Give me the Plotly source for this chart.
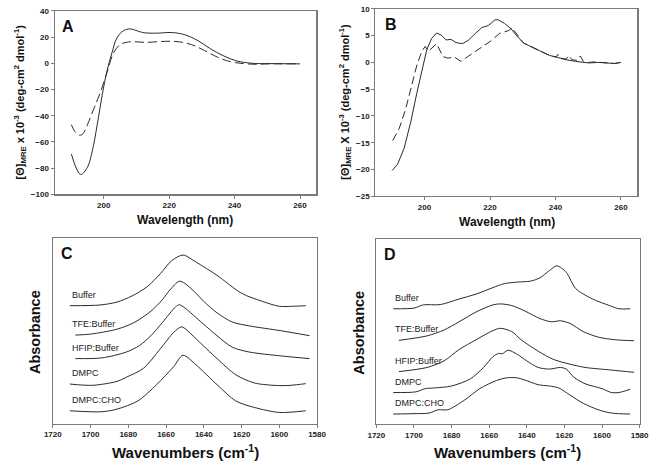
import plotly.graph_objects as go
from plotly.subplots import make_subplots

# ---- Panel A : CD spectra (wavelength nm, [theta] x 1e-3) ----
a_solid_wl = [190.1, 192.9, 195.0, 196.5, 198.0, 199.5, 201.0, 202.5, 204.0, 206.0, 208.0, 209.4,
              211.9, 215.9, 220.8, 224.8, 228.8, 232.7, 236.7, 240.7, 245.6, 250.6, 260.0]
a_solid_val = [-69.3, -84.8, -79.3, -66.8, -46.8, -24.4, -5.7, 8.0, 19.3, 24.8, 26.3, 25.5,
               23.5, 23.0, 23.5, 21.8, 17.3, 11.0, 5.6, 1.8, 0.0, -0.2, -0.4]
a_dash_wl = [190.1, 191.1, 192.6, 193.6, 195.0, 197.0, 199.0, 201.0, 203.0, 205.0, 206.9, 208.9,
             212.9, 218.8, 222.8, 226.8, 230.8, 234.7, 238.7, 242.7, 246.6, 250.6, 260.0]
a_dash_val = [-46.8, -51.8, -54.8, -53.8, -46.8, -34.4, -21.9, -6.9, 8.0, 14.3, 16.0, 16.5,
              16.0, 16.8, 16.5, 14.3, 9.8, 4.8, 1.3, -0.2, -0.7, -0.4, -0.4]

# ---- Panel B : CD spectra ----
b_solid_wl = [190.1, 191.8, 193.8, 195.8, 197.7, 199.2, 200.7, 202.2, 203.7, 205.1, 206.6, 208.1,
              209.6, 211.6, 213.5, 215.5, 217.5, 219.5, 221.4, 222.4, 224.4, 226.4, 228.4, 230.3,
              232.3, 234.3, 236.3, 238.2, 240.2, 243.2, 246.1, 250.1, 253.1, 256.0, 258.0, 260.0]
b_solid_val = [-20.2, -19.0, -16.0, -11.1, -5.6, -1.3, 2.4, 4.5, 5.5, 5.1, 4.2, 4.3,
               3.7, 3.5, 4.2, 5.4, 6.5, 6.9, 7.9, 8.0, 7.3, 6.3, 4.8, 3.6,
               3.0, 2.4, 1.8, 1.3, 1.0, 0.5, 0.2, -0.1, 0.0, -0.1, -0.2, 0.0]
b_dash_wl = [190.3, 192.3, 194.3, 196.2, 197.7, 199.2, 200.2, 201.2, 202.5, 203.7, 205.6, 207.1,
             209.1, 211.1, 213.0, 215.0, 217.0, 220.0, 222.9, 225.9, 226.7, 228.4, 230.3, 232.3,
             234.3, 236.3, 238.2, 240.2, 240.7, 241.5, 243.2, 244.1, 245.0, 246.5, 247.6, 248.5,
             250.1, 252.0, 255.0, 258.0, 260.0]
b_dash_val = [-14.6, -12.3, -8.6, -3.7, -0.4, 2.1, 3.0, 2.1, 2.9, 3.5, 1.1, 0.8,
              1.0, 0.2, 1.0, 1.8, 2.7, 3.9, 5.4, 6.0, 6.5, 5.1, 3.6, 3.0,
              2.4, 1.8, 1.3, 1.0, 1.5, 0.8, 0.6, 1.3, 0.5, 0.4, 1.2, 0.2,
              0.0, 0.1, -0.1, -0.2, 0.0]

# ---- Panel C : FTIR amide I (stacked, arbitrary units) ----
c_labels = ["Buffer", "TFE:Buffer", "HFIP:Buffer", "DMPC", "DMPC:CHO"]
c_wn = [
    [1711, 1695, 1686, 1678, 1670, 1663, 1657, 1651, 1644, 1633, 1620, 1609, 1600, 1593, 1586],
    [1708, 1700, 1686, 1677, 1668, 1662, 1658, 1653, 1650, 1645, 1640, 1633, 1625, 1616, 1599, 1584],
    [1708, 1694, 1681, 1674, 1668, 1662, 1655, 1653, 1650, 1644, 1633, 1625, 1616, 1599, 1584],
    [1711, 1699, 1686, 1681, 1672, 1663, 1656, 1652, 1650, 1644, 1633, 1623, 1613, 1600, 1594, 1586],
    [1711, 1694, 1686, 1675, 1665, 1656, 1651, 1644, 1633, 1623, 1613, 1600, 1586],
]
c_abs = [
    [120.3, 121.0, 124.0, 130.3, 139.7, 153.0, 166.3, 172.0, 164.7, 151.3, 133.0, 124.7, 119.7, 119.7, 120.3],
    [90.3, 91.3, 96.3, 103.0, 114.7, 126.3, 136.3, 145.3, 143.0, 134.7, 124.7, 113.0, 103.7, 99.7, 94.7, 89.7],
    [66.3, 67.0, 73.0, 79.7, 89.7, 103.0, 119.0, 121.3, 118.0, 108.0, 89.7, 78.0, 73.0, 69.0, 66.3],
    [40.3, 39.0, 43.0, 47.3, 56.3, 76.3, 93.0, 98.7, 97.0, 86.3, 66.3, 49.7, 41.3, 38.7, 39.0, 40.7],
    [13.0, 12.0, 14.7, 23.0, 39.7, 58.0, 69.7, 59.7, 39.7, 23.0, 16.3, 11.3, 13.0],
]

# ---- Panel D : FTIR amide I ----
d_labels = ["Buffer", "TFE:Buffer", "HFIP:Buffer", "DMPC", "DMPC:CHO"]
d_wn = [
    [1711, 1700, 1695, 1686, 1676, 1667, 1658, 1652, 1645, 1638, 1633, 1628, 1624, 1619, 1614, 1605, 1596, 1591, 1585],
    [1708, 1693, 1684, 1676, 1667, 1658, 1654, 1648, 1641, 1633, 1627, 1622, 1617, 1610, 1602, 1593, 1583],
    [1708, 1693, 1684, 1676, 1667, 1658, 1654, 1648, 1643, 1634, 1626, 1617, 1609, 1595, 1583],
    [1711, 1699, 1694, 1689, 1680, 1670, 1663, 1658, 1655, 1653, 1650, 1645, 1640, 1634, 1628, 1622, 1619,
     1615, 1609, 1600, 1595, 1591, 1585],
    [1711, 1700, 1692, 1687, 1682, 1673, 1665, 1656, 1651, 1645, 1638, 1634, 1628, 1623, 1617, 1610, 1602, 1595, 1585],
]
d_abs = [
    [118.0, 118.7, 122.0, 122.3, 128.0, 133.0, 139.7, 143.7, 145.3, 146.3, 149.7, 157.0, 162.0, 155.3, 138.7,
     128.0, 121.3, 118.0, 118.0],
    [85.7, 90.3, 96.3, 104.7, 114.7, 122.0, 123.0, 121.3, 115.7, 108.0, 104.7, 105.7, 103.0, 94.7, 89.0, 86.3, 85.3],
    [53.7, 58.0, 64.7, 76.3, 86.3, 95.7, 98.0, 94.7, 86.3, 74.7, 66.3, 61.3, 58.0, 55.3, 53.0],
    [32.3, 33.0, 36.3, 37.0, 39.0, 46.3, 58.0, 69.0, 72.3, 72.0, 75.7, 71.3, 64.7, 58.0, 56.3, 58.0, 56.3,
     48.0, 41.3, 36.3, 32.3, 32.3, 35.7],
    [10.3, 10.7, 11.3, 14.7, 14.7, 24.7, 36.3, 44.7, 47.3, 47.3, 43.0, 40.3, 39.0, 37.0, 29.7, 21.3, 14.7, 11.3, 10.3],
]

FONT = "Liberation Sans"
LINE = "#2b2b2b"
FRAME = "#7a7a7a"

fig = make_subplots(rows=2, cols=2)

# CD traces
fig.add_trace(go.Scatter(x=a_solid_wl, y=a_solid_val, mode="lines", line=dict(color=LINE, width=1, shape="spline")), row=1, col=1)
fig.add_trace(go.Scatter(x=a_dash_wl, y=a_dash_val, mode="lines",
                         line=dict(color=LINE, width=1, dash="9px,4px", shape="spline")), row=1, col=1)
fig.add_trace(go.Scatter(x=b_solid_wl, y=b_solid_val, mode="lines", line=dict(color=LINE, width=1)), row=1, col=2)
fig.add_trace(go.Scatter(x=b_dash_wl, y=b_dash_val, mode="lines",
                         line=dict(color=LINE, width=1, dash="8px,4px")), row=1, col=2)

# FTIR traces + labels
for col, wns, vals, labels, xref, yref in [(1, c_wn, c_abs, c_labels, "x3", "y3"),
                                           (2, d_wn, d_abs, d_labels, "x4", "y4")]:
    for wn, v, lab in zip(wns, vals, labels):
        fig.add_trace(go.Scatter(x=wn, y=v, mode="lines",
                                 line=dict(color=LINE, width=1, shape="spline", smoothing=0.8)), row=2, col=col)
        fig.add_annotation(x=1711, y=v[0], xref=xref, yref=yref, text=lab, showarrow=False,
                           xanchor="left", yanchor="middle", yshift=11,
                           font=dict(family=FONT, size=9, color="#222"))

axis_common = dict(showline=True, mirror=True, linecolor=FRAME, linewidth=1.2, ticks="outside",
                   ticklen=3, tickwidth=1, tickcolor=FRAME, showgrid=False, zeroline=False,
                   ticklabeloverflow="allow", showspikes=False,
                   tickfont=dict(family=FONT, size=8, color="#222", weight="bold"))

fig.update_xaxes(**axis_common)
fig.update_yaxes(**axis_common)

fig.update_layout(
    xaxis=dict(domain=[0.0713, 0.4795], range=[185, 265], tickvals=[200, 220, 240, 260]),
    yaxis=dict(domain=[0.587, 0.985], range=[-100, 40], dtick=20),
    xaxis2=dict(domain=[0.5716, 0.9803], range=[185, 265], tickvals=[200, 220, 240, 260]),
    yaxis2=dict(domain=[0.583, 0.9894], range=[-25, 10], dtick=5),
    xaxis3=dict(domain=[0.0683, 0.4806], range=[1720, 1580], dtick=20),
    yaxis3=dict(domain=[0.09, 0.4915], range=[0, 189], showticklabels=False, ticks=""),
    xaxis4=dict(domain=[0.5731, 0.9838], range=[1720, 1580], dtick=20),
    yaxis4=dict(domain=[0.0887, 0.4894], range=[0, 189], showticklabels=False, ticks=""),
)

bold = lambda s: dict(family=FONT, size=s, color="#111", weight="bold")
titles = [
    ("A", 0.0926, 0.9517, 0, 16), ("B", 0.5964, 0.956, 0, 16),
    ("C", 0.090, 0.459, 0, 16), ("D", 0.5944, 0.456, 0, 16),
    ("Wavelength (nm)", 0.2747, 0.532, 0, 12), ("Wavelength (nm)", 0.7765, 0.528, 0, 12),
    ("Wavenumbers (cm<sup>-1</sup>)", 0.2757, 0.0283, 0, 15),
    ("Wavenumbers (cm<sup>-1</sup>)", 0.778, 0.0283, 0, 15),
    ("[\u0398]<sub>MRE</sub> x 10<sup>-3</sup> (deg-cm<sup>2</sup> dmol<sup>-1</sup>)", 0.0175, 0.787, -90, 11),
    ("[\u0398]<sub>MRE</sub> X 10<sup>-3</sup> (deg-cm<sup>2</sup> dmol<sup>-1</sup>)", 0.525, 0.787, -90, 11),
    ("Absorbance", 0.0395, 0.289, -90, 14.5), ("Absorbance", 0.546, 0.287, -90, 14.5),
]
for text, x, y, ang, size in titles:
    fig.add_annotation(x=x, y=y, xref="paper", yref="paper", text=text, showarrow=False,
                       textangle=ang, xanchor="center", yanchor="middle", font=bold(size))

fig.update_layout(width=659, height=470, margin=dict(l=0, r=0, t=0, b=0),
                  paper_bgcolor="white", plot_bgcolor="white", showlegend=False,
                  hovermode=False)

# drop the default page margin so the figure sits at the window's top-left corner
fig.write_html("out.html", config={"displayModeBar": False, "staticPlot": True},
               post_script="document.body.style.margin='0';document.body.style.overflow='hidden';")
